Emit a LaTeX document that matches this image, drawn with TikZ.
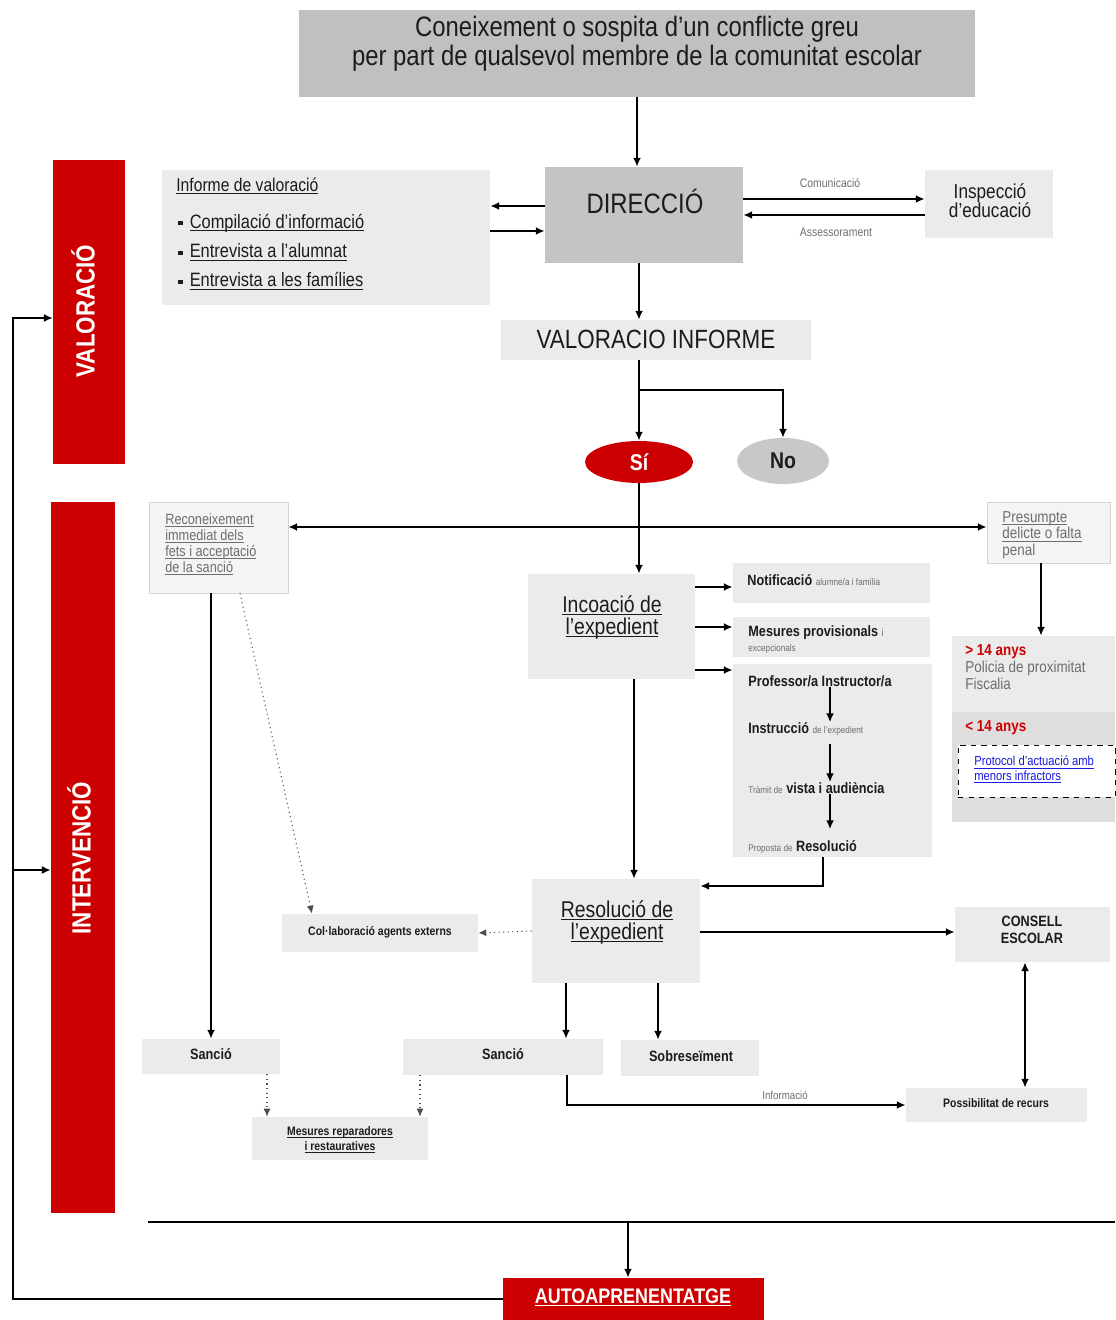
\documentclass[tikz,border=0pt]{standalone}
\usepackage{fontspec}
\setmainfont{Liberation Sans}[FakeStretch=0.85]
\usepackage{tikz}
\usetikzlibrary{arrows,arrows.meta,shapes}
\usepackage{xcolor}
\definecolor{boxgray}{HTML}{EBEBEB}
\definecolor{titlegray}{HTML}{C0C0C0}
\definecolor{dirgray}{HTML}{C4C4C4}
\definecolor{darkred}{HTML}{CC0000}
\definecolor{nogray}{HTML}{C8C8C8}
\definecolor{minorgray}{HTML}{DEDEDE}
\definecolor{palegray}{HTML}{F4F4F4}
\definecolor{edgegray}{HTML}{D4D4D4}
\definecolor{labelgray}{HTML}{6E6E6E}
\definecolor{textdark}{HTML}{1C1C1C}
\definecolor{linkblue}{HTML}{1A1AE0}
\lineskiplimit=-6pt
\newcommand{\undl}[1]{\mbox{\setbox0=\hbox{#1}\rlap{\rule[-1.5pt]{\wd0}{0.4pt}}\box0}}

\begin{document}
\begin{tikzpicture}[scale=0.2]
\tikzstyle{every node}+=[inner sep=0pt, text=textdark]
\tikzstyle{box}=[rectangle, fill=boxgray]
\tikzstyle{pale}=[rectangle, fill=palegray, draw=edgegray]
\tikzstyle{redbar}=[rectangle, fill=darkred]
\tikzstyle{bartext}=[rotate=90, text=white, font=\fontsize{15}{18}\selectfont\bfseries]
\tikzstyle{smallbold}=[font=\fontsize{8.5}{9.5}\selectfont\bfseries]
\tikzstyle{conn}=[black, line width=1pt, -{Latex[length=5pt,width=4.5pt]}]
\tikzstyle{twoway}=[black, line width=1pt, {Latex[length=5pt,width=4.5pt]}-{Latex[length=5pt,width=4.5pt]}]
\tikzstyle{dotconn}=[black!70, dotted, semithick, -{Latex[length=4.5pt,width=4pt]}]
\useasboundingbox (0,0) rectangle (111.5,-132);

% top
\node (title) [rectangle, fill=titlegray, minimum width=135.2mm, minimum height=17.4mm] at (63.7,-5.35) {};
\node [align=center, font=\fontsize{16}{16.5}\selectfont] at (63.7,-4.35) {Coneixement o sospita d’un conflicte greu\\per part de qualsevol membre de la comunitat escolar};
\node (dir) [rectangle, fill=dirgray, minimum width=39.6mm, minimum height=19.2mm] at (64.4,-21.5) {};
\node [font=\fontsize{16}{18}\selectfont] at (64.5,-20.1) {DIRECCIÓ};
\node (inf) [box, minimum width=65.6mm, minimum height=27mm] at (32.6,-23.75) {};
\node [anchor=west, font=\fontsize{10.5}{12}\selectfont] at (17.6,-18.6) {\undl{Informe de valoració}};
\node [anchor=west, font=\fontsize{11}{12}\selectfont] at (17.8,-22.3) {\raisebox{1.5pt}{\rule{2.5pt}{2.5pt}}\hspace{4pt}\undl{Compilació d’informació}};
\node [anchor=west, font=\fontsize{11}{12}\selectfont] at (17.8,-25.2) {\raisebox{1.5pt}{\rule{2.5pt}{2.5pt}}\hspace{4pt}\undl{Entrevista a l’alumnat}};
\node [anchor=west, font=\fontsize{11}{12}\selectfont] at (17.8,-28.1) {\raisebox{1.5pt}{\rule{2.5pt}{2.5pt}}\hspace{4pt}\undl{Entrevista a les famílies}};
\node (insp) [box, minimum width=25.6mm, minimum height=13.6mm] at (98.9,-20.4) {};
\node [align=center, font=\fontsize{11.5}{10.8}\selectfont] at (99.0,-20.05) {Inspecció\\d’educació};
\node (val) [box, minimum width=62mm, minimum height=8mm] at (65.6,-34) {};
\node [font=\fontsize{15}{17}\selectfont] at (65.6,-33.9) {VALORACIO INFORME};
\node (si) [ellipse, fill=darkred, minimum width=21.6mm, minimum height=8.4mm, text=white, font=\fontsize{13}{15}\selectfont\bfseries] at (63.9,-46.2) {Sí};
\node (no) [ellipse, fill=nogray, minimum width=18.4mm, minimum height=9.2mm, font=\fontsize{13}{15}\selectfont\bfseries] at (78.3,-46.1) {No};

% side bars
\node (valbar) [redbar, minimum width=14.4mm, minimum height=60.8mm] at (8.9,-31.2) {};
\node [bartext] at (8.3,-31.1) {VALORACIÓ};
\node (intbar) [redbar, minimum width=12.8mm, minimum height=142.2mm] at (8.3,-85.75) {};
\node [bartext] at (7.9,-85.8) {INTERVENCIÓ};

% intervencio
\node (rec) [pale, minimum width=27.8mm, minimum height=18.2mm] at (21.85,-54.75) {};
\node [anchor=west, align=left, text=labelgray, font=\fontsize{8.5}{9.1}\selectfont] at (16.5,-54.4) {\undl{Reconeixement}\\\undl{immediat dels}\\\undl{fets i acceptació}\\\undl{de la sanció}};
\node (pres) [pale, minimum width=24.6mm, minimum height=12.2mm] at (104.85,-53.25) {};
\node [anchor=west, align=left, text=labelgray, font=\fontsize{9}{9.4}\selectfont] at (100.2,-53.5) {\undl{Presumpte}\\\undl{delicte o falta}\\penal};
\node (adult) [box, minimum width=32.6mm, minimum height=15.2mm] at (103.35,-67.4) {};
\node [anchor=west, align=left, text=labelgray, font=\fontsize{9}{9.7}\selectfont] at (96.5,-66.7) {\textcolor{darkred}{\textbf{> 14 anys}}\\Policia de proximitat\\Fiscalia};
\node (minor) [rectangle, fill=minorgray, minimum width=32.6mm, minimum height=22mm] at (103.35,-76.7) {};
\node [anchor=west, text=darkred, font=\fontsize{9}{10}\selectfont\bfseries] at (96.5,-72.8) {< 14 anys};
\node (prot) [rectangle, fill=white, draw=black, dashed, minimum width=31.4mm, minimum height=10.4mm] at (103.65,-77.1) {};
\node [anchor=west, align=left, text=linkblue, font=\fontsize{7.5}{8.5}\selectfont] at (97.4,-76.95) {\undl{Protocol d’actuació amb}\\\undl{menors infractors}};

\node (inc) [box, minimum width=33.4mm, minimum height=21mm] at (61.15,-62.65) {};
\node [align=center, font=\fontsize{13}{12.5}\selectfont] at (61.2,-61.7) {\undl{Incoació de}\\\undl{l’expedient}};
\node (not) [box, minimum width=39.4mm, minimum height=8mm] at (83.15,-58.3) {};
\node [anchor=west, smallbold] at (74.7,-58.0) {Notificació {\mdseries\fontsize{5.5}{6}\selectfont\color{labelgray} alumne/a i família}};
\node (mes) [box, minimum width=39.4mm, minimum height=8mm] at (83.15,-63.7) {};
\node [anchor=west, align=left, smallbold] at (74.8,-63.95) {Mesures provisionals {\mdseries\fontsize{6}{6}\selectfont\color{labelgray}i}\\[-1pt]{\mdseries\fontsize{5.5}{6}\selectfont\color{labelgray}excepcionals}};
\node (prof) [box, minimum width=39.8mm, minimum height=38.6mm] at (83.25,-76.05) {};
\node (p1) [anchor=west, smallbold] at (74.8,-68.1) {Professor/a Instructor/a};
\node (p2) [anchor=west, smallbold] at (74.8,-72.9) {Instrucció {\mdseries\fontsize{5.5}{6}\selectfont\color{labelgray}de l’expedient}};
\node (p3) [anchor=west, smallbold] at (74.8,-78.8) {{\mdseries\fontsize{5.5}{6}\selectfont\color{labelgray}Tràmit de} vista i audiència};
\node (p4) [anchor=west, smallbold] at (74.8,-84.7) {{\mdseries\fontsize{5.5}{6}\selectfont\color{labelgray}Proposta de} Resolució};

\node (res) [box, minimum width=33.6mm, minimum height=20.8mm] at (61.6,-93.1) {};
\node [align=center, font=\fontsize{13}{12.5}\selectfont] at (61.7,-92.25) {\undl{Resolució de}\\\undl{l’expedient}};
\node (col) [box, minimum width=39.2mm, minimum height=7.6mm] at (38.0,-93.3) {};
\node [font=\fontsize{7}{8}\selectfont\bfseries] at (38.0,-93.2) {Col·laboració agents externs};
\node (cons) [box, minimum width=31mm, minimum height=11mm] at (103.25,-93.45) {};
\node [align=center, smallbold] at (103.2,-93.0) {CONSELL\\ESCOLAR};
\node (san1) [box, minimum width=27.6mm, minimum height=7mm] at (21.1,-105.65) {};
\node [smallbold] at (21.1,-105.4) {Sanció};
\node (san2) [box, minimum width=40mm, minimum height=7.2mm] at (50.3,-105.7) {};
\node [smallbold] at (50.3,-105.4) {Sanció};
\node (sob) [box, minimum width=27.6mm, minimum height=7.2mm] at (69.0,-105.8) {};
\node [smallbold] at (69.1,-105.6) {Sobreseïment};
\node (pos) [box, minimum width=36.2mm, minimum height=6.8mm] at (99.65,-110.5) {};
\node [font=\fontsize{7}{8}\selectfont\bfseries] at (99.6,-110.3) {Possibilitat de recurs};
\node (rep) [box, minimum width=35.2mm, minimum height=8.6mm] at (34.0,-113.85) {};
\node [align=center, font=\fontsize{7}{8.5}\selectfont\bfseries] at (34.0,-113.95) {\undl{Mesures reparadores}\\\undl{i restauratives}};
\node (auto) [redbar, minimum width=52.2mm, minimum height=8.4mm] at (63.35,-129.9) {};
\node [text=white, font=\fontsize{12}{14}\selectfont\bfseries] at (63.3,-129.7) {\undl{AUTOAPRENENTATGE}};

% connectors
\draw [conn] (title.south) -- (title.south |- dir.north);
\draw [conn] (dir.west |- 0,-20.6) -- (inf.east |- 0,-20.6);
\draw [conn] (inf.east |- 0,-23.1) -- (dir.west |- 0,-23.1);
\draw [conn] (dir.east |- 0,-19.9) -- (insp.west |- 0,-19.9);
\draw [conn] (insp.west |- 0,-21.5) -- (dir.east |- 0,-21.5);
\node [text=labelgray, font=\fontsize{7}{8}\selectfont] at (83.0,-18.3) {Comunicació};
\node [text=labelgray, font=\fontsize{7}{8}\selectfont] at (83.6,-23.2) {Assessorament};
\draw [conn] (dir.south -| si) -- (val.north -| si);
\draw [conn] (val.south -| si) -- (si.north);
\draw [conn] (si |- 0,-39) -| (no.north);
\draw [conn] (si.south) -- (si.south |- inc.north);
\draw [twoway] (rec.east |- 0,-52.7) -- (pres.west |- 0,-52.7);
\draw [conn] (pres.south -| 104.1,0) -- (adult.north -| 104.1,0);
\draw [conn] (inc.east |- 0,-58.7) -- (not.west |- 0,-58.7);
\draw [conn] (inc.east |- 0,-62.7) -- (mes.west |- 0,-62.7);
\draw [conn] (inc.east |- 0,-67) -- (prof.west |- 0,-67);
\draw [conn] (p1.south -| 83,0) -- (p2.north -| 83,0);
\draw [conn, shorten <=1.6mm] (p2.south -| 83,0) -- (p3.north -| 83,0);
\draw [conn, shorten >=2.2mm] (p3.south -| 83,0) -- (p4.north -| 83,0);
\draw [conn] (prof.south -| 82.3,0) |- (res.east |- 0,-88.6);
\draw [conn] (inc.south -| 63.4,0) -- (res.north -| 63.4,0);
\draw [dotconn] (rec.south -| 24,0) -- (col.north -| 31.2,0);
\draw [dotconn] (res.west) -- (col.east);
\draw [conn] (res.east |- 0,-93.2) -- (cons.west |- 0,-93.2);
\draw [twoway] (cons.south -| 102.5,0) -- (pos.north -| 102.5,0);
\draw [conn] (rec.south -| san1) -- (san1.north);
\draw [conn] (res.south -| 56.6,0) -- (san2.north -| 56.6,0);
\draw [conn] (res.south -| 65.8,0) -- (sob.north -| 65.8,0);
\draw [conn] (san2.south -| 56.7,0) |- (pos.west);
\node [text=labelgray, font=\fontsize{6.5}{7}\selectfont] at (78.5,-109.5) {Informació};
\draw [dotconn] (san1.south -| 26.7,0) -- (rep.north -| 26.7,0);
\draw [dotconn] (san2.south -| 42,0) -- (rep.north -| 42,0);
\draw [black, line width=1pt] (14.8,-122.2) -- (111.5,-122.2);
\draw [conn] (62.8,-122.2) -- (auto.north -| 62.8,0);
\draw [conn, line width=0.8pt] (auto.west) -| (1.3,-31.8) -- (valbar.west |- 0,-31.8);
\draw [conn, line width=0.8pt] (1.3,-87) -- (intbar.west |- 0,-87);
\end{tikzpicture}
\end{document}
